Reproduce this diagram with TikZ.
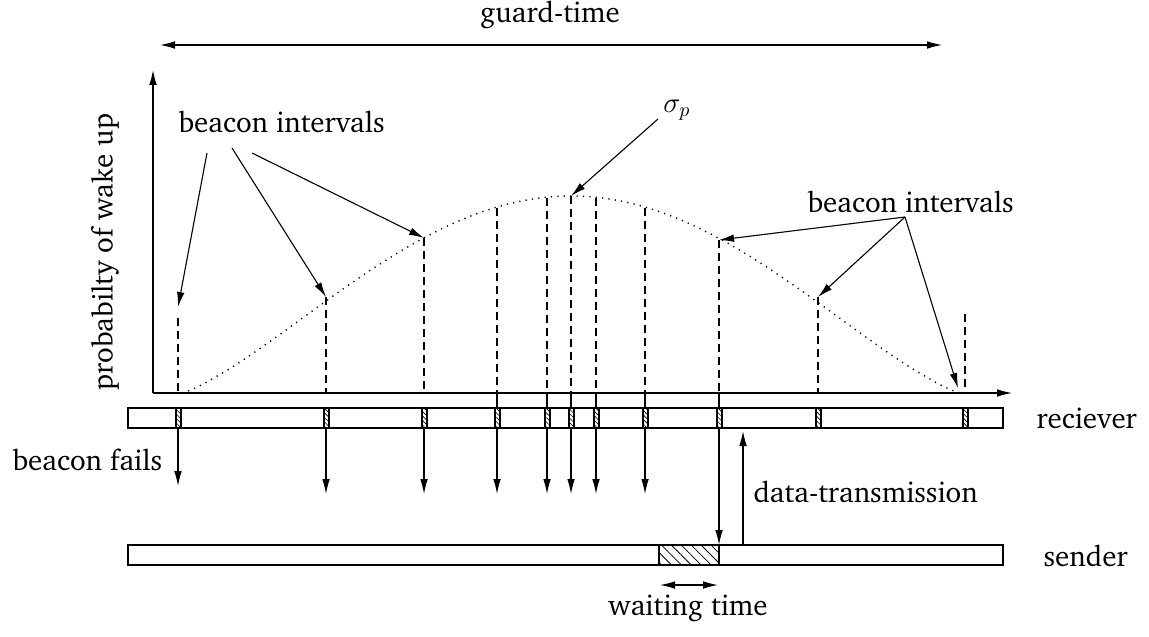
\documentclass[tikz,border=0pt]{standalone}
\usepackage[T1]{fontenc}
\usepackage{charter}
\usetikzlibrary{arrows.meta,patterns,patterns.meta}

\begin{document}
\begin{tikzpicture}[x=0.5pt,y=-0.5pt,
  every node/.style={inner sep=0pt, font=\fontsize{14.5}{17}\selectfont},
  line width=0.55pt,
  tip/.style={-{Latex[length=7.5pt,width=3.8pt]}},
  dbl/.style={{Latex[length=7.5pt,width=3.8pt]}-{Latex[length=7.5pt,width=3.8pt]}},
  guide/.style={dash pattern=on 4pt off 2.5pt, line width=0.55pt},
  curve/.style={dash pattern=on 0.6pt off 2.6pt, line width=0.7pt},
  slot/.style={draw, pattern={Lines[angle=-45,distance=1.6pt,line width=0.3pt]}},
  hatch/.style={draw, pattern={Lines[angle=-45,distance=3.5pt,line width=0.4pt]}},
  lbl/.style={anchor=base west}]
\useasboundingbox (0,0) rectangle (1149,636);

% axes
\coordinate (o) at (153,393);
\coordinate (xend) at (1012,393);
\coordinate (yend) at (153,70);
\draw[tip] (o) -- (xend);
\draw[tip] (o) -- (yend);
\node[rotate=90] (ylab) at (105,252) {probabilty of wake up};

% guard time
\coordinate (ga) at (160,45);
\coordinate (gb) at (942,45);
\draw[dbl] (ga) -- (gb);
\node (guard) at (550,15) {guard-time};

% wake-up probability curve
\draw[curve] plot[domain=-389:389, samples=120] ({571+\x},{393-197*(cos(\x*0.230769))^1.28});

% receiver and sender bars
\coordinate (ra) at (128,408);
\coordinate (rb) at (1003,428);
\coordinate (sa) at (128,545);
\coordinate (sb) at (1003,565);
\draw (ra) rectangle (rb);
\draw (sa) rectangle (sb);
\node[lbl] (recv) at (1036,428) {reciever};
\node[lbl] (send) at (1043,566) {sender};

% waiting period in the sender bar
\coordinate (wa) at (659,545);
\coordinate (wb) at (719,565);
\draw[hatch] (wa) rectangle (wb);
\coordinate (wl) at (660,585);
\coordinate (wr) at (718,585);
\draw[dbl] (wl) -- (wr);
\node (wait) at (688,608) {waiting time};

% beacon slots and guide lines
\foreach \px/\tp [count=\i] in {178/318,326/297,424/238,497/208,547/198,571/196,596/198,645/208,719/240,818/297,965/314}{
  \draw[slot] (\px-2,408) rectangle (\px+3,428);
  \coordinate (top\i) at (\px,\tp);
  \coordinate (ax\i) at (\px,393);
  \coordinate (slot\i) at (\px,428);
  \draw[guide] (top\i) -- (ax\i);
}
\foreach \i in {4,5,6,7,8,9}{
  \draw (ax\i) -- ++(0,15);
}
% beacons sent down to the sender
\foreach \i/\px/\py in {1/178/486,2/326/494,3/424/494,4/497/494,5/547/494,6/571/494,7/596/494,8/645/494,9/719/545}{
  \coordinate (end\i) at (\px,\py);
  \draw[tip] (slot\i) -- (end\i);
}
\node[lbl] (fails) at (12,470) {beacon fails};

% data transmission
\coordinate (dta) at (743,545);
\coordinate (dtb) at (743,431);
\draw[tip] (dta) -- (dtb);
\node[lbl] (data) at (753,502) {data-transmission};

% beacon interval labels
\node[lbl] (bil) at (178,133) {beacon intervals};
\coordinate (bl1) at (207,153);
\coordinate (bl2) at (232,148);
\coordinate (bl3) at (252,153);
\coordinate (tp1) at (178,307);
\draw[tip] (bl1) -- (tp1);
\draw[tip] (bl2) -- (top2);
\draw[tip] (bl3) -- (top3);

\node[lbl] (bir) at (807,213) {beacon intervals};
\coordinate (br) at (905,217);
\coordinate (tp11) at (958,388);
\draw[tip] (br) -- (top9);
\draw[tip] (br) -- (top10);
\draw[tip] (br) -- (tp11);

% peak label
\node (sig) at (677,110) {$\sigma_p$};
\coordinate (sg) at (658,119);
\draw[tip] (sg) -- (top6);
\end{tikzpicture}
\end{document}
